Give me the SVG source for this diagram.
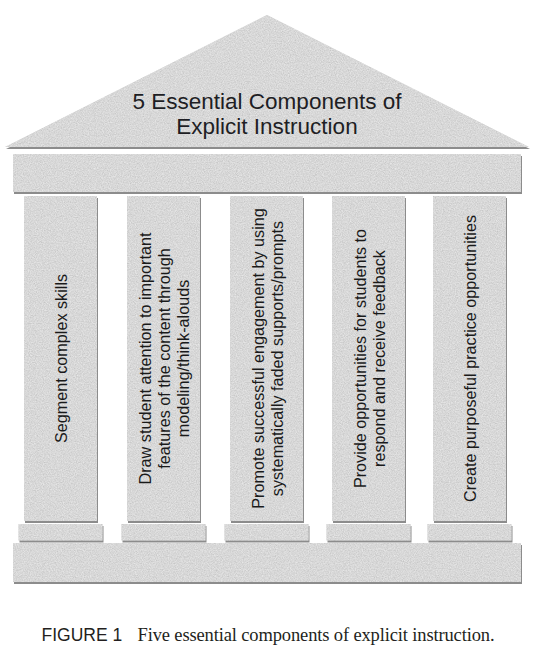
<svg xmlns="http://www.w3.org/2000/svg" width="544" height="649" viewBox="0 0 544 649">
  <defs>
    <style>
      .stone { fill: #c6c6c6; filter: url(#stone); }
      .lbl { font-family: "Liberation Sans", Arial, sans-serif; font-size: 16.2px; fill: #1a1a1a; text-anchor: middle; }
      .title { font-family: "Liberation Sans", Arial, sans-serif; font-size: 22.5px; fill: #1e1e24; text-anchor: middle; }
      .capA { font-family: "Liberation Sans", Arial, sans-serif; font-size: 17.5px; fill: #231f20; }
      .capB { font-family: "Liberation Serif", "Times New Roman", serif; font-size: 18.5px; fill: #231f20; }
    </style>
    <filter id="stone" x="-5%" y="-5%" width="110%" height="120%">
      <feTurbulence type="fractalNoise" baseFrequency="0.85" numOctaves="3" seed="7" result="noise"/>
      <feColorMatrix in="noise" type="matrix" values="0.6 0 0 0 0.48  0.6 0 0 0 0.48  0.6 0 0 0 0.48  0 0 0 0 0.55" result="grey"/>
      <feComposite in="grey" in2="SourceAlpha" operator="in" result="grain"/>
      <feOffset in="SourceAlpha" dx="0.5" dy="2" result="off"/>
      <feGaussianBlur in="off" stdDeviation="0.6" result="offb"/>
      <feFlood flood-color="#8c8c8c" result="sc"/>
      <feComposite in="sc" in2="offb" operator="in" result="shadow"/>
      <feMerge>
        <feMergeNode in="shadow"/>
        <feMergeNode in="SourceGraphic"/>
        <feMergeNode in="grain"/>
      </feMerge>
    </filter>
  </defs>

  <g id="roof">
    <polygon class="stone" points="5,147 267,15 529,147"/>
    <text class="title" x="267" y="109">5 Essential Components of</text>
    <text class="title" x="267" y="134">Explicit Instruction</text>
  </g>

  <g id="entablature">
    <rect class="stone" x="13" y="154" width="508" height="38"/>
  </g>

  <g id="col1">
    <rect class="stone" x="24" y="196" width="73" height="325"/>
    <rect class="stone" x="18.5" y="524" width="84" height="16.5"/>
    <g transform="translate(60.5,358.5) rotate(-90)">
      <text class="lbl" x="0" y="6">Segment complex skills</text>
    </g>
  </g>

  <g id="col2">
    <rect class="stone" x="127" y="196" width="73" height="325"/>
    <rect class="stone" x="121.5" y="524" width="84" height="16.5"/>
    <g transform="translate(163.5,358.5) rotate(-90)">
      <text class="lbl" x="0" y="-12.5">Draw student attention to important</text>
      <text class="lbl" x="0" y="6.5">features of the content through</text>
      <text class="lbl" x="0" y="25.5">modeling/think-alouds</text>
    </g>
  </g>

  <g id="col3">
    <rect class="stone" x="230" y="196" width="73" height="325"/>
    <rect class="stone" x="224.5" y="524" width="84" height="16.5"/>
    <g transform="translate(266.5,358.5) rotate(-90)">
      <text class="lbl" x="0" y="-3">Promote successful engagement by using</text>
      <text class="lbl" x="0" y="16">systematically faded supports/prompts</text>
    </g>
  </g>

  <g id="col4">
    <rect class="stone" x="332" y="196" width="73" height="325"/>
    <rect class="stone" x="326.5" y="524" width="84" height="16.5"/>
    <g transform="translate(368.5,358.5) rotate(-90)">
      <text class="lbl" x="0" y="-3">Provide opportunities for students to</text>
      <text class="lbl" x="0" y="16">respond and receive feedback</text>
    </g>
  </g>

  <g id="col5">
    <rect class="stone" x="433" y="196" width="73" height="325"/>
    <rect class="stone" x="427.5" y="524" width="84" height="16.5"/>
    <g transform="translate(469.5,358.5) rotate(-90)">
      <text class="lbl" x="0" y="6">Create purposeful practice opportunities</text>
    </g>
  </g>

  <g id="base">
    <rect class="stone" x="13" y="543" width="508" height="39"/>
  </g>

  <g id="connectors"/>

  <g id="caption">
    <text class="capA" x="41.5" y="641">FIGURE 1</text>
    <text class="capB" x="137.5" y="641" textLength="357">Five essential components of explicit instruction.</text>
  </g>
</svg>
